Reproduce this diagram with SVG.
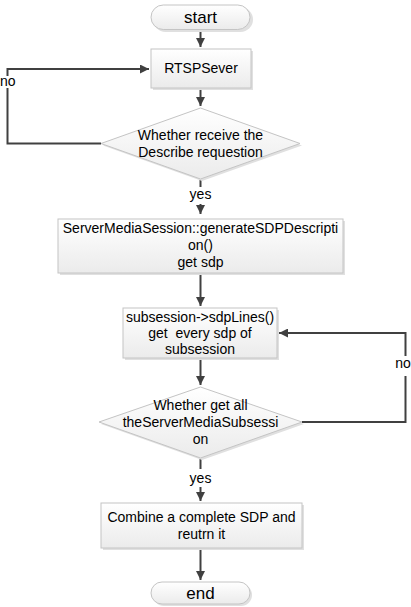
<svg xmlns="http://www.w3.org/2000/svg" width="411" height="607" viewBox="0 0 411 607">
<defs>
<linearGradient id="g" x1="0" y1="0" x2="0" y2="1">
<stop offset="0" stop-color="#ffffff"/>
<stop offset="1" stop-color="#ebebeb"/>
</linearGradient>
<marker id="ah" viewBox="0 0 10 10" refX="10" refY="5" markerWidth="9" markerHeight="9" markerUnits="userSpaceOnUse" orient="auto">
<path d="M0,0 L10,5 L0,10 z" fill="#404040"/>
</marker>
<style>
.s{fill:url(#g);stroke:#c4c4c4;stroke-width:1}
.sh{fill:#e0e0e0}
.t{font-family:"Liberation Sans",Arial,sans-serif;font-size:14px;fill:#000;text-anchor:middle}
.tl{font-size:17px}
.c{fill:none;stroke:#404040;stroke-width:2}
.lb{fill:#fff}
</style>
</defs>
<rect width="411" height="607" fill="#fff"/>
<g id="connectors">
<line class="c" x1="200.5" y1="30" x2="200.5" y2="47" marker-end="url(#ah)"/>
<line class="c" x1="200.5" y1="88" x2="200.5" y2="106" marker-end="url(#ah)"/>
<polyline class="c" points="101,143.5 7.5,143.5 7.5,69 149,69" marker-end="url(#ah)"/>
<line class="c" x1="200.5" y1="179" x2="200.5" y2="187"/>
<line class="c" x1="200.5" y1="204" x2="200.5" y2="214" marker-end="url(#ah)"/>
<line class="c" x1="200.5" y1="273" x2="200.5" y2="306" marker-end="url(#ah)"/>
<line class="c" x1="200.5" y1="358" x2="200.5" y2="385" marker-end="url(#ah)"/>
<polyline class="c" points="302,422 405.5,422 405.5,333 279,333" marker-end="url(#ah)"/>
<line class="c" x1="200.5" y1="458" x2="200.5" y2="469"/>
<line class="c" x1="200.5" y1="487" x2="200.5" y2="501" marker-end="url(#ah)"/>
<line class="c" x1="200.5" y1="548" x2="200.5" y2="580" marker-end="url(#ah)"/>
<rect class="lb" x="0" y="76" width="16" height="12"/>
<rect class="lb" x="395" y="356" width="16" height="20"/>
<text class="t" x="7.8" y="86">no</text>
<text class="t" x="403" y="368">no</text>
<text class="t" x="200.5" y="199">yes</text>
<text class="t" x="200.5" y="483">yes</text>
</g>
<g id="start">
<rect class="sh" x="153" y="7" width="100" height="25" rx="12.5"/>
<rect class="s" x="151" y="5" width="99" height="24.5" rx="12.25"/>
<text class="t tl" x="200.5" y="23">start</text>
</g>
<g id="rtspsever">
<rect class="sh" x="153" y="51" width="100" height="39"/>
<rect class="s" x="151" y="49" width="100" height="39"/>
<text class="t" x="201" y="73">RTSPSever</text>
</g>
<g id="decision1">
<polygon class="sh" points="202,110 302,145.5 202,181 103,145.5"/>
<polygon class="s" points="200.5,108 300,143.5 200.5,179 101,143.5"/>
<text class="t" x="200.5" y="140">Whether receive the</text>
<text class="t" x="200.5" y="157">Describe requestion</text>
</g>
<g id="generate">
<rect class="sh" x="60" y="221" width="285" height="54"/>
<rect class="s" x="58" y="219" width="285" height="54"/>
<text class="t" x="200.5" y="233">ServerMediaSession::generateSDPDescripti</text>
<text class="t" x="200.5" y="250">on()</text>
<text class="t" x="200.5" y="267">get sdp</text>
</g>
<g id="sdplines">
<rect class="sh" x="125" y="310" width="154" height="50"/>
<rect class="s" x="123" y="308" width="154" height="50"/>
<text class="t" x="200" y="322">subsession-&gt;sdpLines()</text>
<text class="t" x="200" y="338" xml:space="preserve">get  every sdp of</text>
<text class="t" x="200" y="354">subsession</text>
</g>
<g id="decision2">
<polygon class="sh" points="202,389 304,424 202,460 101,424"/>
<polygon class="s" points="200.5,387 302,422 200.5,458 99,422"/>
<text class="t" x="200.5" y="410">Whether get all</text>
<text class="t" x="200.5" y="427">theServerMediaSubsessi</text>
<text class="t" x="200.5" y="444">on</text>
</g>
<g id="combine">
<rect class="sh" x="103" y="505" width="201" height="45"/>
<rect class="s" x="101" y="503" width="201" height="45"/>
<text class="t" x="201.5" y="522">Combine a complete SDP and</text>
<text class="t" x="201.5" y="539">reutrn it</text>
</g>
<g id="end">
<rect class="sh" x="153" y="584" width="99" height="22" rx="11"/>
<rect class="s" x="151" y="582" width="99" height="22" rx="11"/>
<text class="t tl" x="200.5" y="599">end</text>
</g>
</svg>
